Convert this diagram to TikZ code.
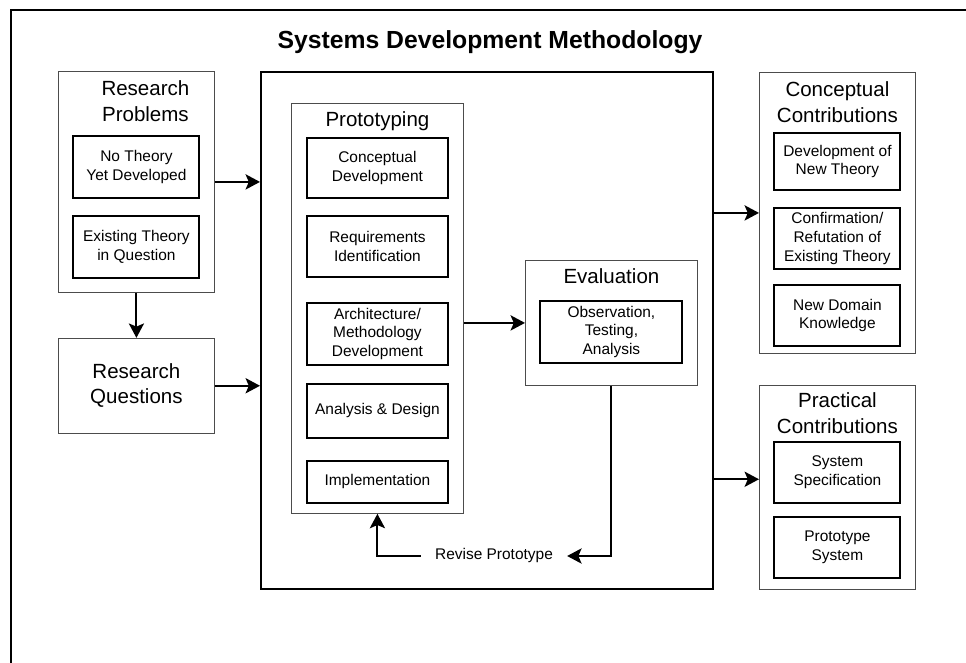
\documentclass[tikz,border=0pt]{standalone}
\usepackage{fontspec}
\setmainfont{Liberation Sans}
\usepackage{tikz}
\usetikzlibrary{positioning, arrows.meta}
\tikzstyle{groupbox} = [rectangle, draw=black!70, line width=0.6pt, inner sep=0pt, minimum width=3.9cm]
\tikzstyle{mainbox} = [rectangle, draw=black, line width=1.4pt, inner sep=0pt]
\tikzstyle{stepbox} = [rectangle, draw=black, line width=1.4pt, inner sep=0pt, minimum width=3.15cm, minimum height=1.525cm, text centered, align=center, font=\fontsize{11}{13.3}\selectfont]
\tikzstyle{protostep} = [minimum width=3.525cm]
\tikzstyle{headtext} = [inner sep=0pt, align=center, font=\fontsize{14.6}{18}\selectfont]
\tikzstyle{note} = [inner ysep=2pt, inner xsep=0.35cm, font=\fontsize{11}{13.3}\selectfont]
\tikzstyle{arrow} = [line width=1.4pt, -{Stealth[length=3.6mm, width=3.8mm, inset=0.8mm]}]

\begin{document}
\begin{tikzpicture}[node distance=0.4cm]
    \useasboundingbox (0,0) rectangle (24.15,-16.575);
    \draw [line width=1.4pt] (0.275,-16.575) |- (24.15,-0.25);

    \node (title) [anchor=base, font=\fontsize{17.6}{21}\selectfont\bfseries] at (12.25,-1.21) {Systems Development Methodology};

    % research side
    \node (problems) [groupbox, minimum height=5.525cm, anchor=north west] at (1.45,-1.775) {};
    \node (problemsTitle) [headtext, below=0.24cm of problems.north, xshift=0.225cm] {Research\\Problems};
    \node (noTheory) [stepbox, minimum height=1.55cm, below=1.6cm of problems.north] {No Theory\\Yet Developed};
    \node (inQuestion) [stepbox, minimum height=1.55cm, below=of noTheory] {Existing Theory\\in Question};
    \node (questions) [groupbox, headtext, minimum height=2.375cm, below=1.125cm of problems] {Research\\Questions};

    % methodology
    \node (sdm) [mainbox, minimum width=11.3cm, minimum height=12.925cm, anchor=north west] at (6.5,-1.775) {};

    \node (proto) [groupbox, minimum width=4.3cm, minimum height=10.25cm, anchor=north west] at (7.275,-2.575) {};
    \node (protoTitle) [headtext, below=0.2cm of proto.north] {Prototyping};
    \node (concDev) [stepbox, protostep, minimum height=1.5cm, below=0.85cm of proto.north] {Conceptual\\Development};
    \node (reqId) [stepbox, protostep, below=of concDev] {Requirements\\Identification};
    \node (archMeth) [stepbox, protostep, minimum height=1.55cm, below=0.6cm of reqId] {Architecture/\\Methodology\\Development};
    \node (anaDes) [stepbox, protostep, minimum height=1.35cm, below=0.425cm of archMeth] {Analysis \& Design};
    \node (impl) [stepbox, protostep, minimum height=1.05cm, below=0.525cm of anaDes] {Implementation};

    \node (eval) [groupbox, minimum width=4.3cm, minimum height=3.125cm, anchor=north west] at (13.125,-6.5) {};
    \node (evalTitle) [headtext, below=0.2cm of eval.north] {Evaluation};
    \node (observe) [stepbox, minimum width=3.55cm, minimum height=1.55cm, below=1cm of eval.north] {Observation,\\Testing,\\Analysis};

    \node (revise) [note] at (12.35,-13.9) {Revise Prototype};

    % contributions
    \node (concept) [groupbox, minimum height=7.025cm, anchor=north west] at (18.975,-1.8) {};
    \node (conceptTitle) [headtext, below=0.24cm of concept.north] {Conceptual\\Contributions};
    \node (newTheory) [stepbox, minimum height=1.425cm, below=1.5cm of concept.north] {Development of\\New Theory};
    \node (confirm) [stepbox, below=of newTheory] {Confirmation/\\Refutation of\\Existing Theory};
    \node (domain) [stepbox, below=0.35cm of confirm] {New Domain\\Knowledge};

    \node (practical) [groupbox, minimum height=5.1cm, below=0.775cm of concept] {};
    \node (practicalTitle) [headtext, below=0.2cm of practical.north] {Practical\\Contributions};
    \node (sysSpec) [stepbox, below=1.4cm of practical.north] {System\\Specification};
    \node (protoSys) [stepbox, below=0.3cm of sysSpec] {Prototype\\System};
    \coordinate (practicalIn) at ([yshift=0.2cm]practical.west);

    \draw [arrow] (problems.east) -- (problems.east -| sdm.west);
    \draw [arrow] (problems) -- (questions);
    \draw [arrow] (questions.east) -- (questions.east -| sdm.west);
    \draw [arrow] (proto.east |- eval.west) -- (eval.west);
    \draw [arrow] (eval.south) |- (revise.east);
    \draw [arrow] (revise.west) -| (proto.south);
    \draw [arrow] (sdm.east |- concept.west) -- (concept.west);
    \draw [arrow] (sdm.east |- practicalIn) -- (practicalIn);
\end{tikzpicture}
\end{document}
